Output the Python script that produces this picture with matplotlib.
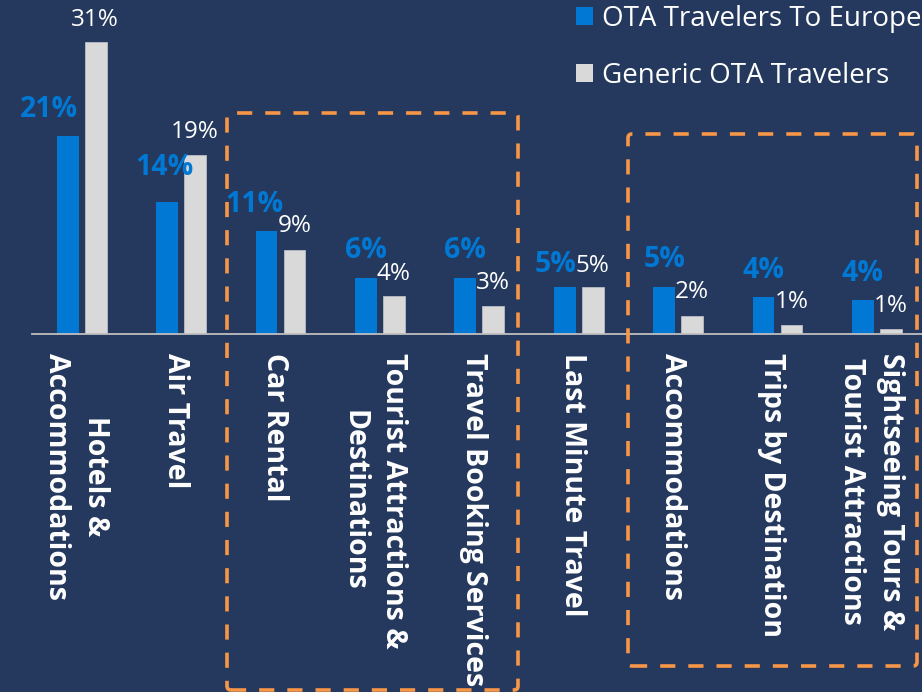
import matplotlib
matplotlib.use("Agg")
import matplotlib.pyplot as plt
from matplotlib.patches import FancyBboxPatch, Patch
from matplotlib.transforms import IdentityTransform, blended_transform_factory, offset_copy
from matplotlib.font_manager import FontProperties

# ---------------- data ----------------
categories = [
    "Hotels &\nAccommodations",
    "Air Travel",
    "Car Rental",
    "Tourist Attractions &\nDestinations",
    "Travel Booking Services",
    "Last Minute Travel",
    "Accommodations",
    "Trips by Destination",
    "Sightseeing Tours &\nTourist Attractions",
]
europe = [21.0, 14.0, 10.95, 5.9, 5.9, 4.9, 4.9, 3.9, 3.55]
generic = [31.0, 19.0, 8.9, 3.95, 2.9, 4.9, 1.85, 0.9, 0.45]
europe_labels = ["21%", "14%", "11%", "6%", "6%", "5%", "5%", "4%", "4%"]
generic_labels = ["31%", "19%", "9%", "4%", "3%", "5%", "2%", "1%", "1%"]
series_names = ["OTA Travelers To Europe", "Generic OTA Travelers"]

# label nudges (pixels): horizontal shift, gap above bar top
europe_dx = [-18.5, -3, -12, 0, 0, -9, 0, 0, 0]
europe_gap = [19.2, 26.6, 18.7, 20.3, 20.3, 15.6, 20, 19, 19.6]
generic_dx = [-1, 0, 0, 0, 0, 0, 0, 0, 0]
generic_gap = [16.5, 16.7, 17.7, 16.7, 17, 15.6, 17.7, 16.7, 17]

# ---------------- style ----------------
BG = "#24395D"
BLUE = "#0078D4"
GRAY = "#D9D9D9"
ORANGE = "#F79646"
FONT = "Open Sans"

W, H = 922, 692
fig = plt.figure(figsize=(W / 100, H / 100), dpi=100, facecolor=BG)
base_y = 333.5
px_per_pct = 9.39
group_w = 99.4
ax = fig.add_axes([32 / W, (H - base_y) / H, 9 * group_w / W, base_y / H])
ax.set_facecolor(BG)
ax.set_xlim(-0.5, 8.5)
ax.set_ylim(0, base_y / px_per_pct)

x = list(range(len(categories)))
bw = 0.221
off = 0.141
ax.bar([i - off for i in x], europe, width=bw, color=BLUE, zorder=3)
ax.bar([i + off for i in x], generic, width=bw, color=GRAY, edgecolor="#B8BCC4",
       linewidth=0.6, zorder=3)

for s in ["top", "left", "right"]:
    ax.spines[s].set_visible(False)
ax.spines["bottom"].set_color("#BFBFBF")
ax.spines["bottom"].set_linewidth(1.3)
ax.spines["bottom"].set_zorder(4)
ax.set_yticks([])
ax.set_xticks([])

# value labels
for i in x:
    ax.annotate(europe_labels[i], xy=(i - off, europe[i]),
                xytext=(europe_dx[i] * 0.72, europe_gap[i] * 0.72),
                textcoords="offset points", ha="center", va="baseline",
                color=BLUE, fontsize=20.5, fontweight="bold", family=FONT,
                annotation_clip=False)
    ax.annotate(generic_labels[i], xy=(i + off, generic[i]),
                xytext=(generic_dx[i] * 0.72, generic_gap[i] * 0.72),
                textcoords="offset points", ha="center", va="baseline",
                color="white", fontsize=17.5, family=FONT,
                annotation_clip=False)

# category labels
trans = blended_transform_factory(ax.transData, ax.transAxes)
trans = offset_copy(trans, fig=fig, x=-6, y=-19.5, units="dots")
for i, c in enumerate(categories):
    ax.text(i, 0, c, transform=trans, rotation=-90, ha="center", va="top",
            color="white", fontsize=20.5, fontweight="bold", family=FONT,
            linespacing=1.45, clip_on=False)

# legend
handles = [Patch(facecolor=BLUE), Patch(facecolor=GRAY)]
leg = fig.legend(handles, series_names, loc="upper left",
                 bbox_to_anchor=(576 / W, 1 - 5 / H), frameon=False,
                 prop=FontProperties(family=FONT, size=20),
                 handlelength=0.62, handleheight=0.62, handletextpad=0.3,
                 labelspacing=1.03, borderpad=0, borderaxespad=0,
                 labelcolor="white")

# dashed highlight boxes (pixel coords, origin bottom-left)
boxes = [(227, 518, 113, 690), (628, 917, 134, 666)]
for (l, r, t, b) in boxes:
    p = FancyBboxPatch((l, H - b), r - l, b - t,
                       boxstyle="round,pad=0,rounding_size=4",
                       transform=IdentityTransform(), fill=False,
                       edgecolor=ORANGE, linewidth=2.6,
                       linestyle=(0, (4.2, 3.6)), zorder=5)
    p.set_clip_on(False)
    fig.add_artist(p)

fig.savefig("out.png", dpi=100, facecolor=BG)
